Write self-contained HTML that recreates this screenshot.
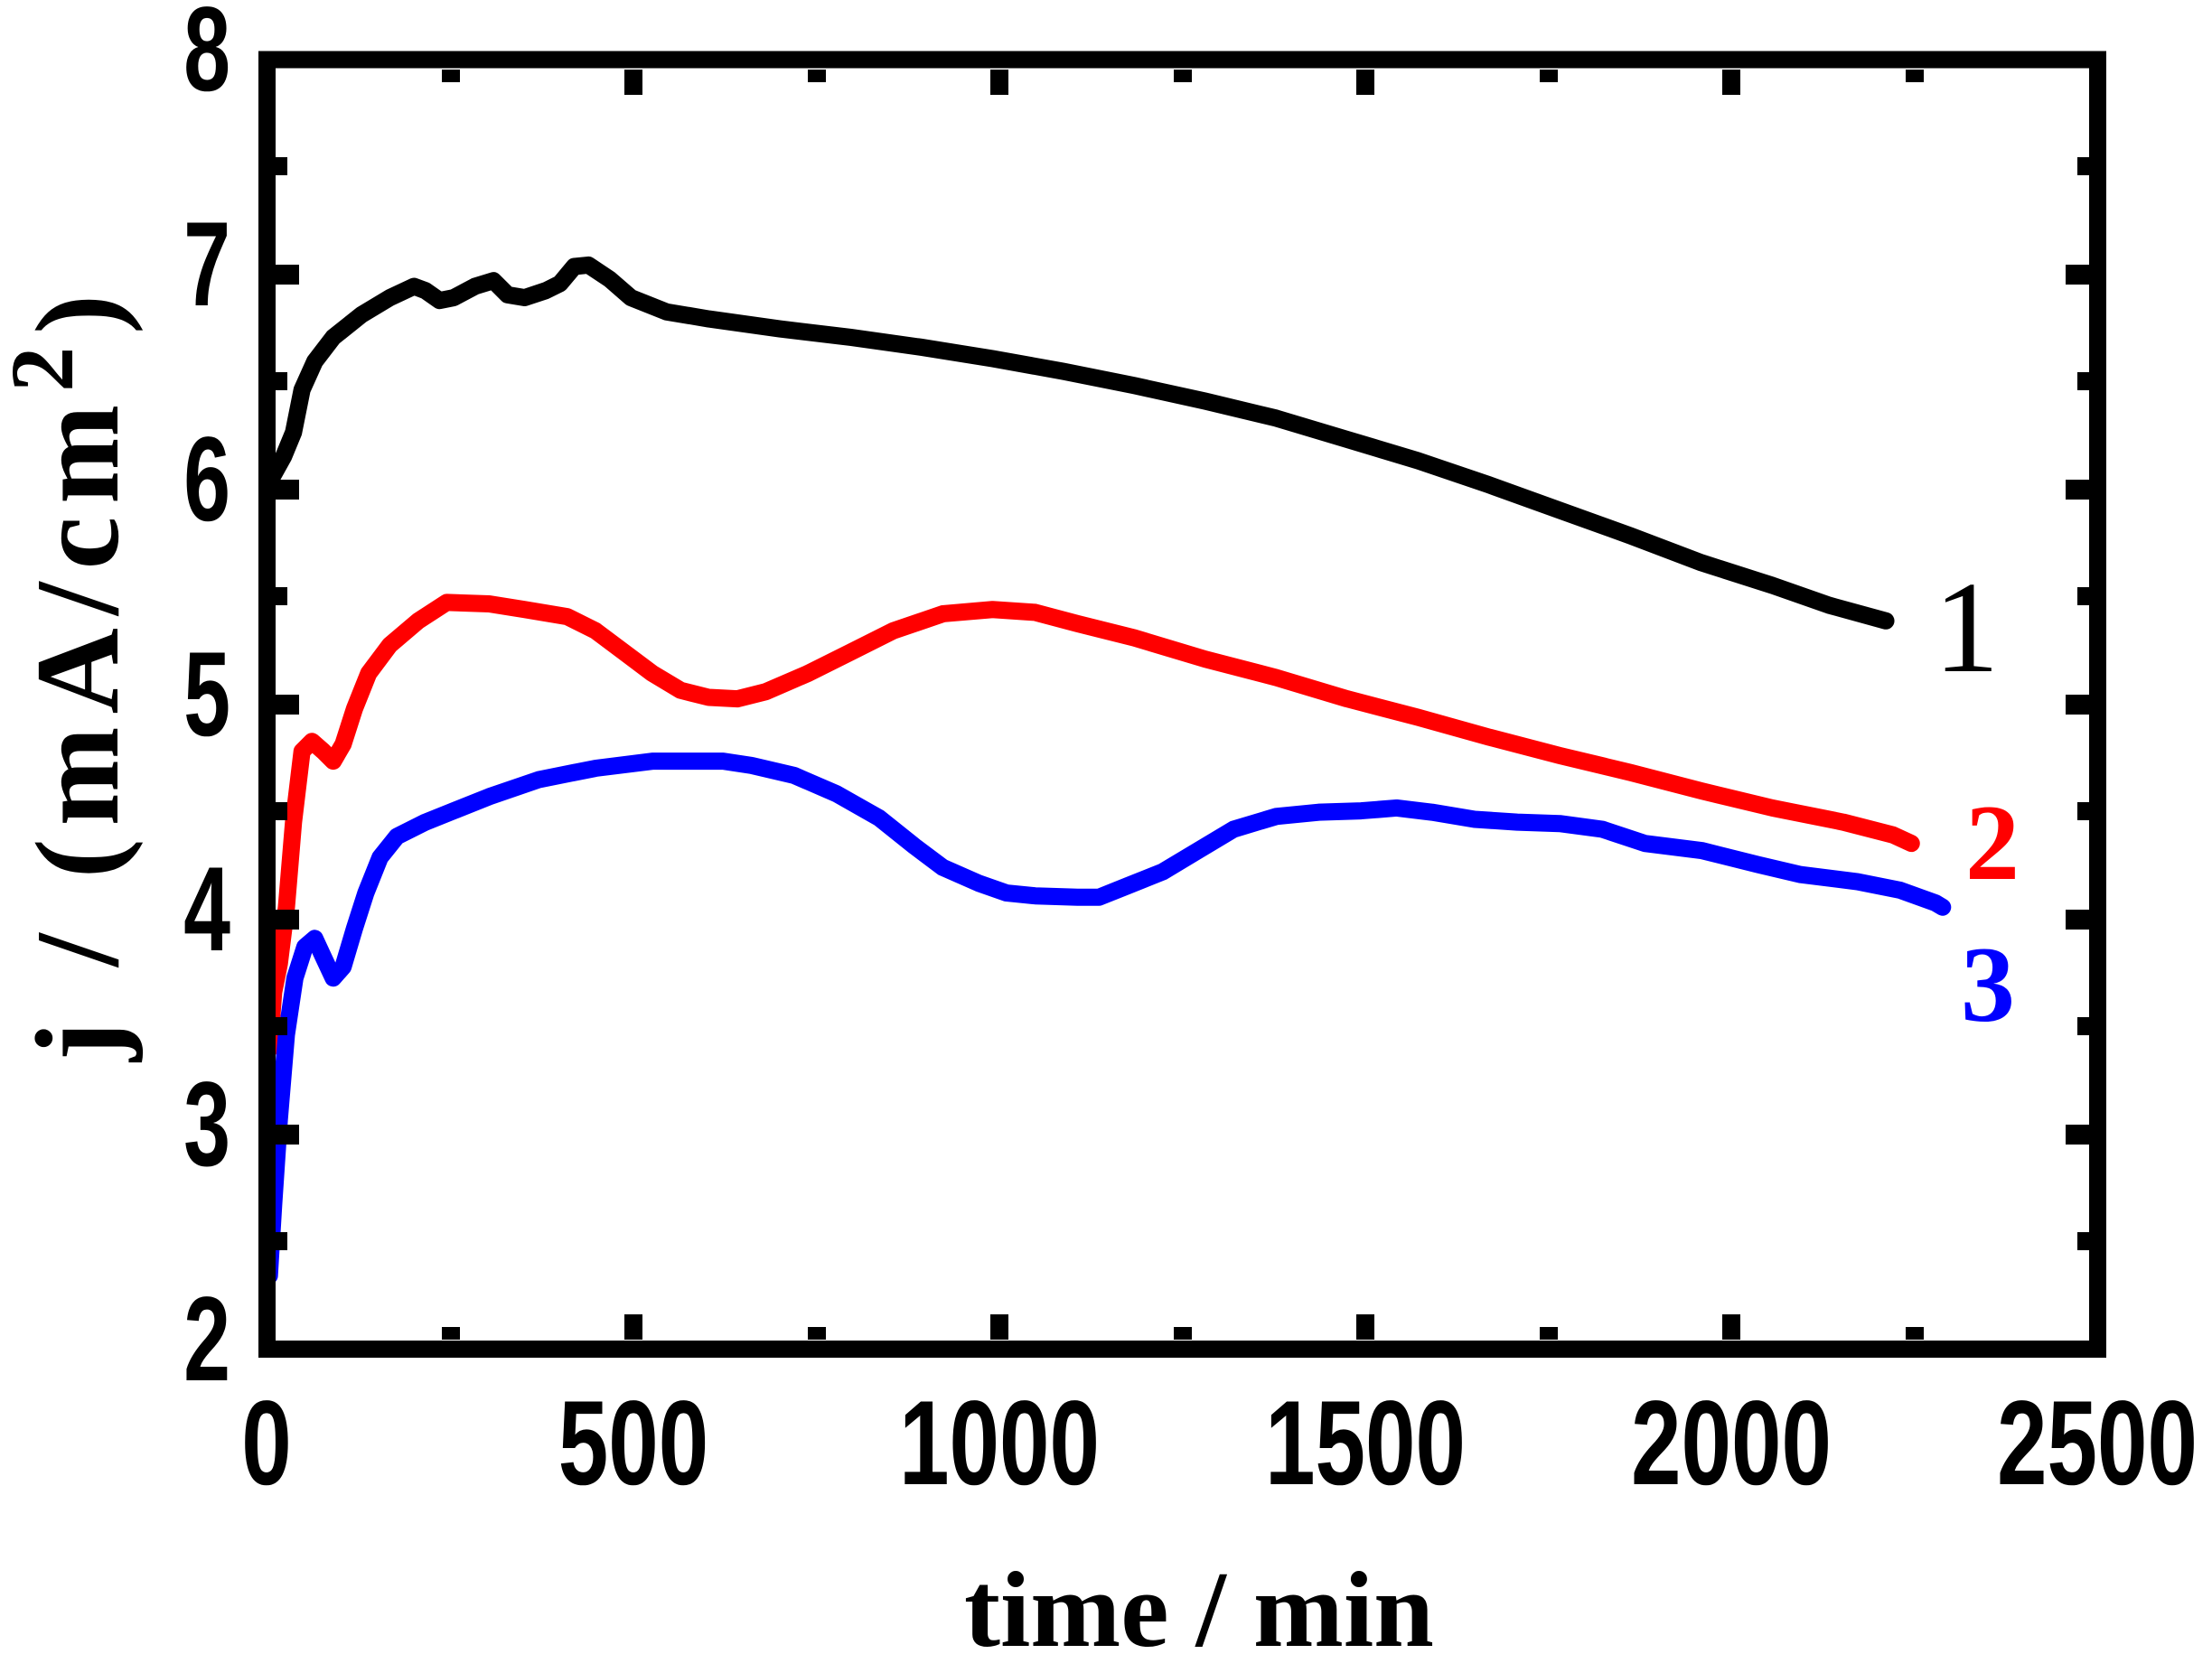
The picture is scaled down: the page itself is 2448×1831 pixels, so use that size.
<!DOCTYPE html>
<html><head><meta charset="utf-8"><style>html,body{margin:0;padding:0;background:#fff}svg{display:block}</style></head>
<body>
<svg width="2448" height="1831" viewBox="0 0 2448 1831" xmlns="http://www.w3.org/2000/svg">
<rect width="2448" height="1831" fill="#fff"/>
<g fill="none" stroke-linejoin="round" stroke-linecap="round">
<g transform="scale(1.5692)">
<polyline vector-effect="non-scaling-stroke" stroke="#000" stroke-width="19" points="190,340 200,322 207,305 213,275 222,255 235,238 255,222 275,210 292,202 300,205 310,212 320,210 335,202 348,198 358,208 370,210 385,205 395,200 405,188 415,187 430,197 445,210 470,220 500,225 550,232 600,238 650,245 700,253 750,262 800,272 850,283 900,295 950,310 1000,325 1050,342 1100,360 1150,378 1200,397 1250,413 1290,427 1330,438"/>
<polyline vector-effect="non-scaling-stroke" stroke="#ff0000" stroke-width="19" points="190,740 193,700 197,680 202,640 207,580 213,530 220,523 228,530 235,537 242,525 250,500 260,475 275,455 295,438 315,425 345,426 370,430 400,435 420,445 440,460 460,475 480,487 500,492 520,493 540,488 570,475 600,460 630,445 665,433 700,430 730,432 760,440 800,450 850,465 900,478 950,493 1000,506 1050,520 1100,533 1150,545 1200,558 1250,570 1300,580 1335,589 1348,595"/>
<polyline vector-effect="non-scaling-stroke" stroke="#0000ff" stroke-width="19" points="190,900 193,850 197,790 202,730 208,690 215,668 222,662 228,675 235,690 242,682 250,655 258,630 268,605 280,590 300,580 320,572 345,562 380,550 420,542 460,537 510,537 530,540 560,547 590,560 620,577 645,597 665,612 690,623 710,630 730,632 760,633 775,633 795,625 820,615 845,600 870,585 900,576 930,573 960,572 985,570 1010,573 1040,578 1070,580 1100,581 1130,585 1160,595 1200,600 1240,610 1270,617 1310,622 1340,628 1365,637 1370,640"/>
</g>
</g>
<rect x="295.5" y="66" width="2026" height="1427.5" fill="none" stroke="#000" stroke-width="19"/>
<g font-family="'Liberation Sans',Arial,sans-serif" font-weight="bold" font-size="133" fill="#000">
<g text-anchor="end">
<text transform="translate(255,100) scale(0.7,1)">8</text>
<text transform="translate(255,338) scale(0.7,1)">7</text>
<text transform="translate(255,576) scale(0.7,1)">6</text>
<text transform="translate(255,814) scale(0.7,1)">5</text>
<text transform="translate(255,1052) scale(0.7,1)">4</text>
<text transform="translate(255,1290) scale(0.7,1)">3</text>
<text transform="translate(255,1528) scale(0.7,1)">2</text>
</g>
<g text-anchor="middle">
<text transform="translate(295,1643) scale(0.75,1)">0</text>
<text transform="translate(701,1643) scale(0.75,1)">500</text>
<text transform="translate(1106,1643) scale(0.75,1)">1000</text>
<text transform="translate(1511,1643) scale(0.75,1)">1500</text>
<text transform="translate(1916,1643) scale(0.75,1)">2000</text>
<text transform="translate(2321,1643) scale(0.75,1)">2500</text>
</g>
</g>
<g font-family="'Liberation Serif','Times New Roman',serif" font-weight="bold">
<text x="1067" y="1822" font-size="120">time / min</text>
<text transform="translate(130,1175) rotate(-90)" font-size="132" letter-spacing="14">j / (mA/cm<tspan font-size="100" dy="-50">2</tspan><tspan dy="50">)</tspan></text>
<text x="2140" y="743" font-size="145" font-weight="normal" fill="#000">1</text>
<text x="2175" y="973" font-size="120" fill="#ff0000">2</text>
<text x="2170" y="1130" font-size="120" fill="#0000ff">3</text>
</g>
<g fill="#000">
<rect x="305" y="293" width="26" height="22"/><rect x="2286" y="293" width="26" height="22"/>
<rect x="305" y="531" width="26" height="22"/><rect x="2286" y="531" width="26" height="22"/>
<rect x="305" y="769" width="26" height="22"/><rect x="2286" y="769" width="26" height="22"/>
<rect x="305" y="1007" width="26" height="22"/><rect x="2286" y="1007" width="26" height="22"/>
<rect x="305" y="1245" width="26" height="22"/><rect x="2286" y="1245" width="26" height="22"/>
<rect x="305" y="174" width="13" height="20"/><rect x="2299" y="174" width="13" height="20"/>
<rect x="305" y="412" width="13" height="20"/><rect x="2299" y="412" width="13" height="20"/>
<rect x="305" y="650" width="13" height="20"/><rect x="2299" y="650" width="13" height="20"/>
<rect x="305" y="888" width="13" height="20"/><rect x="2299" y="888" width="13" height="20"/>
<rect x="305" y="1126" width="13" height="20"/><rect x="2299" y="1126" width="13" height="20"/>
<rect x="305" y="1364" width="13" height="20"/><rect x="2299" y="1364" width="13" height="20"/>
<rect x="691" y="77" width="20" height="28"/><rect x="691" y="1455" width="20" height="28"/>
<rect x="1096" y="77" width="20" height="28"/><rect x="1096" y="1455" width="20" height="28"/>
<rect x="1501" y="77" width="20" height="28"/><rect x="1501" y="1455" width="20" height="28"/>
<rect x="1906" y="77" width="20" height="28"/><rect x="1906" y="1455" width="20" height="28"/>
<rect x="489" y="77" width="20" height="14"/><rect x="489" y="1469" width="20" height="14"/>
<rect x="894" y="77" width="20" height="14"/><rect x="894" y="1469" width="20" height="14"/>
<rect x="1299" y="77" width="20" height="14"/><rect x="1299" y="1469" width="20" height="14"/>
<rect x="1704" y="77" width="20" height="14"/><rect x="1704" y="1469" width="20" height="14"/>
<rect x="2109" y="77" width="20" height="14"/><rect x="2109" y="1469" width="20" height="14"/>
</g>
</svg>
</body></html>
